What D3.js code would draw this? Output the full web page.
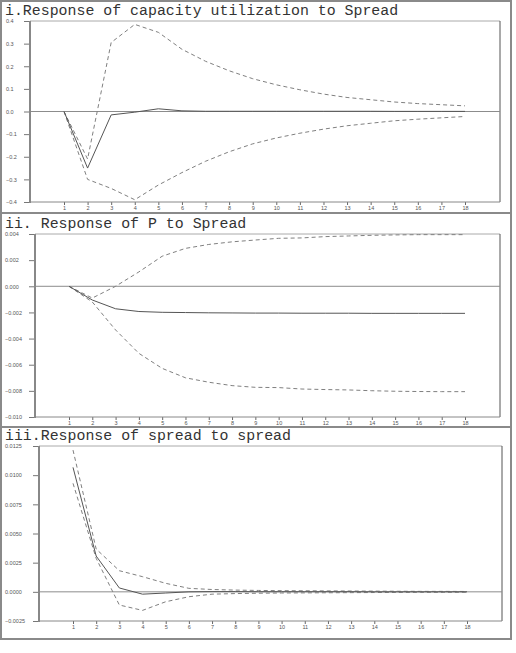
<!DOCTYPE html>
<html>
<head>
<meta charset="utf-8">
<script src="https://cdn.jsdelivr.net/npm/d3@7"></script>
<style>
  body { margin: 0; background: #fff; }
  svg { display: block; }
  .tick text { font-family: "Liberation Sans", Arial, sans-serif; }
</style>
</head>
<body>
<script>
"use strict";

// periods (horizon) shared by all three panels
var periods = d3.range(1, 19);

// i. capacity utilization to Spread
var capResp  = [0, -0.25, -0.015, -0.003, 0.012, 0.003, 0.001, 0.001, 0.001, 0.001, 0.001, 0.001, 0.001, 0.001, 0.0005, 0.0005, 0.0005, 0.0005];
var capUpper = [0, -0.21, 0.305, 0.385, 0.35, 0.275, 0.222, 0.18, 0.145, 0.118, 0.096, 0.077, 0.062, 0.052, 0.042, 0.035, 0.03, 0.025];
var capLower = [0, -0.30, -0.34, -0.39, -0.325, -0.27, -0.22, -0.178, -0.143, -0.117, -0.096, -0.078, -0.063, -0.052, -0.041, -0.034, -0.028, -0.022];
var capTicks = [0.4, 0.3, 0.2, 0.1, 0.0, -0.1, -0.2, -0.3, -0.4];

// ii. P to Spread
var pResp  = [0, -0.00105, -0.00172, -0.00193, -0.00199, -0.00201, -0.00203, -0.00204, -0.00205, -0.00205, -0.00206, -0.00206, -0.00206, -0.00207, -0.00207, -0.00207, -0.00207, -0.00207];
var pUpper = [0, -0.0009, 0.0000, 0.0011, 0.0023, 0.0029, 0.0032, 0.0034, 0.00354, 0.00367, 0.0037, 0.0038, 0.00385, 0.0039, 0.00393, 0.00395, 0.00395, 0.00395];
var pLower = [0, -0.0012, -0.00334, -0.00513, -0.00628, -0.0070, -0.00734, -0.0076, -0.00773, -0.00775, -0.00786, -0.0079, -0.00793, -0.00799, -0.00803, -0.00805, -0.00806, -0.00806];
var pTicks = [0.004, 0.002, 0.000, -0.002, -0.004, -0.006, -0.008, -0.010];

// iii. spread to spread
var sResp  = [0.01067, 0.00307, 0.00033, -0.0002, -0.0001, 0.0000, 0.00002, 0.00002, 0.00001, 0.00001, 0.00001, 0.00001, 0.00001, 0.0, 0.0, 0.0, 0.0, 0.0];
var sUpper = [0.01215, 0.00367, 0.00181, 0.0013, 0.00073, 0.0003, 0.0002, 0.00015, 0.00012, 0.0001, 0.00009, 0.00008, 0.00007, 0.00006, 0.00005, 0.00004, 0.00004, 0.00003];
var sLower = [0.0093, 0.00287, -0.00113, -0.00159, -0.00085, -0.00042, -0.0002, -0.00015, -0.00012, -0.0001, -0.00009, -0.00008, -0.00007, -0.00006, -0.00005, -0.00004, -0.00004, -0.00003];
var sTicks = [0.0125, 0.0100, 0.0075, 0.0050, 0.0025, 0.0000, -0.0025];

var titles = [
  "i.Response of capacity utilization to Spread",
  "ii. Response of P to Spread",
  "iii.Response of spread to spread"
];

////// layout of each panel (pixels)
var panels = [
  { title: titles[0], resp: capResp, up: capUpper, lo: capLower, ticks: capTicks, fmt: ".1f",
    top: 1, bottom: 213, titleY: 15, l: 30, r: 500, t: 21, b: 202, x1: 64, x18: 465, labX: 6 },
  { title: titles[1], resp: pResp, up: pUpper, lo: pLower, ticks: pTicks, fmt: ".3f",
    top: 213, bottom: 427, titleY: 228, l: 35, r: 500, t: 234, b: 417, x1: 69, x18: 465, labX: 5 },
  { title: titles[2], resp: sResp, up: sUpper, lo: sLower, ticks: sTicks, fmt: ".4f",
    top: 427, bottom: 639, titleY: 440, l: 39, r: 502, t: 446, b: 621, x1: 73, x18: 467, labX: 5 }
];

var width = 516, height = 653;

var svg = d3.select("body").append("svg")
    .attr("width", width)
    .attr("height", height);

// outer frame + separators
svg.append("rect")
    .attr("x", 1).attr("y", 1)
    .attr("width", 510).attr("height", 638)
    .attr("fill", "none")
    .attr("stroke", "#8a8a8a")
    .attr("stroke-width", 2);

panels.forEach(function(p, k) {
  if (k > 0) {
    svg.append("line")
        .attr("x1", 1).attr("x2", 511)
        .attr("y1", p.top).attr("y2", p.top)
        .attr("stroke", "#8a8a8a")
        .attr("stroke-width", 2);
  }

  svg.append("text")
      .attr("x", 5)
      .attr("y", p.titleY)
      .attr("font-family", "'Liberation Mono', 'Courier New', monospace")
      .attr("font-size", "14.9px")
      .attr("fill", "#333")
      .text(p.title);

  var x = d3.scaleLinear().domain([1, 18]).range([p.x1, p.x18]);
  var y = d3.scaleLinear()
      .domain([d3.min(p.ticks), d3.max(p.ticks)])
      .range([p.b, p.t]);

  var g = svg.append("g");

  // plot frame: top and right
  g.append("line")
      .attr("x1", p.l).attr("x2", p.r).attr("y1", p.t).attr("y2", p.t)
      .attr("stroke", "#aaa").attr("stroke-width", 1);
  g.append("line")
      .attr("x1", p.r).attr("x2", p.r).attr("y1", p.t).attr("y2", p.b)
      .attr("stroke", "#555").attr("stroke-width", 1);

  // zero line
  g.append("line")
      .attr("x1", p.l).attr("x2", p.r)
      .attr("y1", y(0)).attr("y2", y(0))
      .attr("stroke", "#8c8c8c").attr("stroke-width", 1);

  // x axis
  var xa = g.append("g")
      .attr("transform", "translate(0," + p.b + ")")
      .call(d3.axisBottom(x).tickValues(periods).tickSize(3).tickPadding(1).tickFormat(d3.format("d")));
  xa.select(".domain").remove();
  xa.selectAll(".tick line").attr("stroke", "#666");
  xa.selectAll(".tick text").attr("font-size", "5.5px").attr("fill", "#555");
  g.append("line")
      .attr("x1", p.l).attr("x2", p.r).attr("y1", p.b).attr("y2", p.b)
      .attr("stroke", "#888").attr("stroke-width", 1);

  // y axis
  var ya = g.append("g")
      .attr("transform", "translate(" + p.l + ",0)")
      .call(d3.axisLeft(y).tickValues(p.ticks).tickSize(6).tickFormat(d3.format(p.fmt)));
  ya.select(".domain").remove();
  ya.selectAll(".tick line").attr("stroke", "#777");
  ya.selectAll(".tick text")
      .attr("font-size", "5.5px")
      .attr("fill", "#555")
      .attr("text-anchor", "start")
      .attr("x", p.labX - p.l);
  g.append("line")
      .attr("x1", p.l).attr("x2", p.l).attr("y1", p.t).attr("y2", p.b + 1)
      .attr("stroke", "#888").attr("stroke-width", 2);

  var line = d3.line()
      .x(function(d, i) { return x(periods[i]); })
      .y(function(d) { return y(d); });

  [p.up, p.lo].forEach(function(band) {
    g.append("path")
        .attr("d", line(band))
        .attr("fill", "none")
        .attr("stroke", "#808080")
        .attr("stroke-width", 1)
        .attr("stroke-dasharray", "4,3");
  });
  g.append("path")
      .attr("d", line(p.resp))
      .attr("fill", "none")
      .attr("stroke", "#555")
      .attr("stroke-width", 1);
});
</script>
</body>
</html>
